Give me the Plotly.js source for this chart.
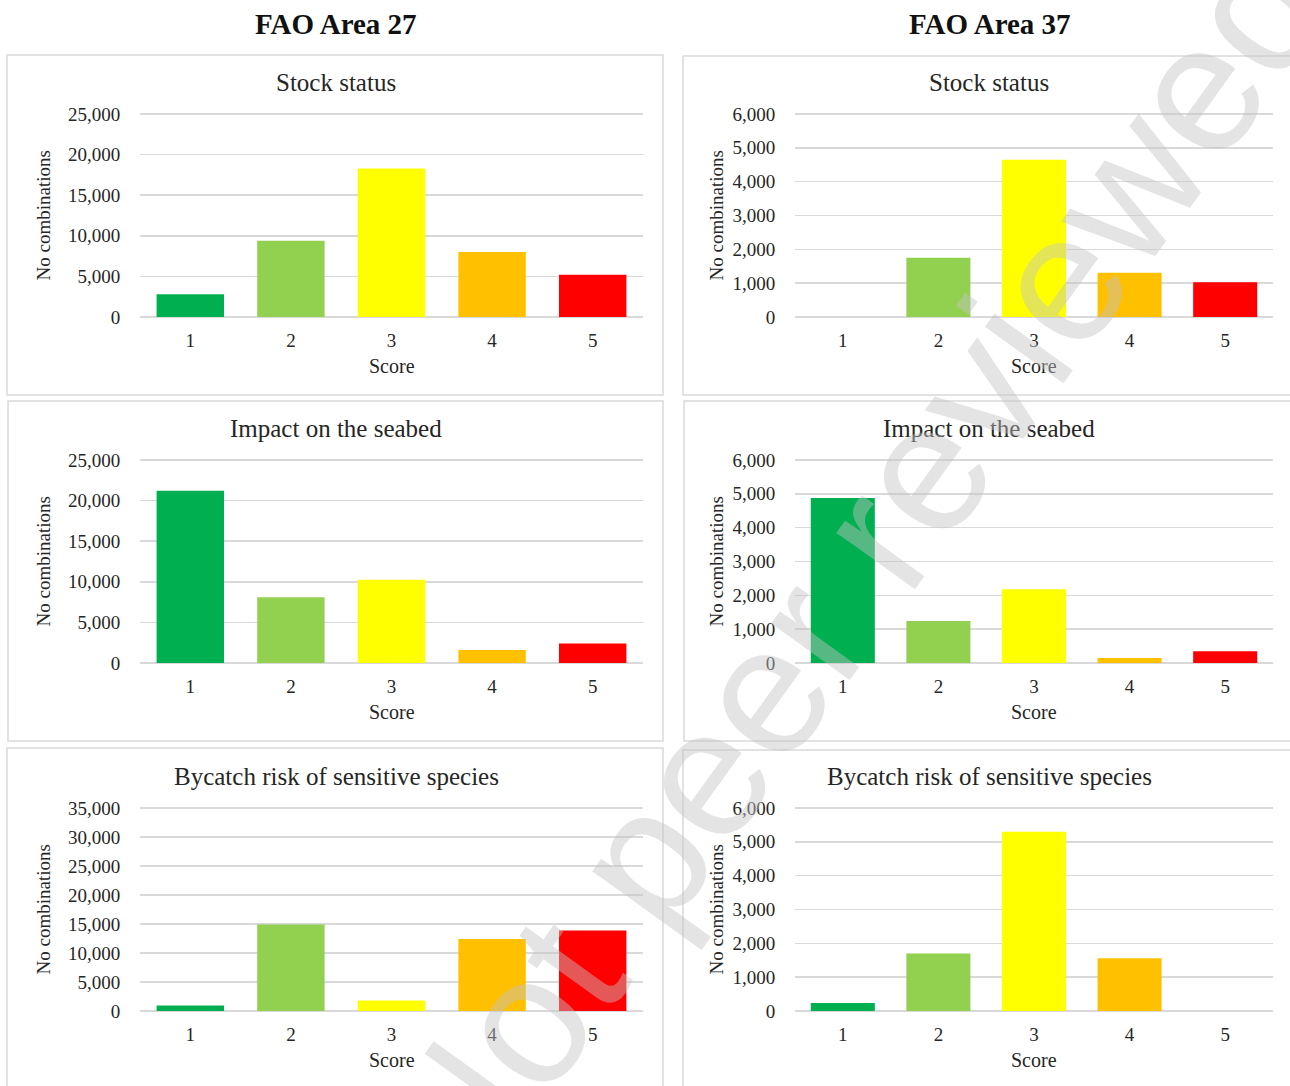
<!DOCTYPE html>
<html>
<head>
<meta charset="utf-8">
<script src="https://cdn.plot.ly/plotly-3.0.1.min.js"></script>
<style>html,body{margin:0;padding:0;background:#fff;}#chart{width:1290px;height:1086px;}</style>
</head>
<body>
<div id="chart"></div>
<script>
// ---- data ----
const scores = ["1", "2", "3", "4", "5"];
const scoreColors = ["#00B050", "#92D050", "#FFFF00", "#FFC000", "#FF0000"];
const columnTitles = ["FAO Area 27", "FAO Area 37"];
const panelTitles = ["Stock status", "Impact on the seabed", "Bycatch risk of sensitive species"];
const area27Stock = [2800, 9400, 18300, 8000, 5200];
const area37Stock = [0, 1750, 4650, 1310, 1030];
const area27Seabed = [21200, 8100, 10250, 1600, 2400];
const area37Seabed = [4880, 1240, 2180, 150, 350];
const area27Bycatch = [950, 14900, 1800, 12400, 13900];
const area37Bycatch = [240, 1700, 5300, 1560, 0];
const yMax27 = [25000, 25000, 35000];
const yMax37 = [6000, 6000, 6000];
const yStep27 = [5000, 5000, 5000];
const yStep37 = [1000, 1000, 1000];
const yTitle = "No combinations";
const xTitle = "Score";
const watermark = "Not peer reviewed";

// ---- layout helpers ----
const W = 1290, H = 1086;
const px = x => x / W;
const py = y => 1 - y / H;
const serif = "Liberation Serif, Times New Roman, serif";
const textColor = "#262626";

const cols = [{x0: 140, x1: 643}, {x0: 795, x1: 1273}];
const rows = [{y0: 114, y1: 317}, {y0: 460, y1: 663}, {y0: 808, y1: 1011}];
const boxes = [
  [{x0: 7, y0: 55, x1: 663, y1: 395}, {x0: 683, y0: 56, x1: 1300, y1: 395}],
  [{x0: 8, y0: 401, x1: 663, y1: 741}, {x0: 684, y0: 401, x1: 1300, y1: 741}],
  [{x0: 7, y0: 748, x1: 663, y1: 1100}, {x0: 683, y0: 750, x1: 1300, y1: 1100}]
];
const seriesGrid = [
  [area27Stock, area37Stock],
  [area27Seabed, area37Seabed],
  [area27Bycatch, area37Bycatch]
];

const data = [];
const layout = {
  width: W, height: H,
  margin: {l: 0, r: 0, t: 0, b: 0},
  paper_bgcolor: "#ffffff", plot_bgcolor: "rgba(0,0,0,0)",
  showlegend: false,
  bargap: 0.33,
  annotations: [], shapes: []
};

const topPad = 4; // px of headroom so the top gridline is drawn
let idx = 0;
for (let r = 0; r < 3; r++) {
  for (let c = 0; c < 2; c++) {
    idx++;
    const xa = "x" + (idx === 1 ? "" : idx), ya = "y" + (idx === 1 ? "" : idx);
    const xk = "xaxis" + (idx === 1 ? "" : idx), yk = "yaxis" + (idx === 1 ? "" : idx);
    data.push({
      type: "bar", x: scores, y: seriesGrid[r][c],
      marker: {color: scoreColors, line: {width: 0}},
      xaxis: xa, yaxis: ya, hoverinfo: "x+y"
    });
    const col = cols[c], row = rows[r];
    const h = row.y1 - row.y0;
    layout[xk] = {
      domain: [px(col.x0), px(col.x1)], anchor: ya, type: "category",
      range: [-0.5, 4.5], showgrid: false, zeroline: false, showline: false,
      ticks: "outside", ticklen: 6, tickcolor: "rgba(0,0,0,0)",
      tickfont: {family: serif, size: 19, color: textColor}
    };
    const ymax = c === 0 ? yMax27[r] : yMax37[r];
    const ystep = c === 0 ? yStep27[r] : yStep37[r];
    layout[yk] = {
      domain: [py(row.y1), py(row.y0 - topPad)], anchor: xa,
      range: [0, ymax * (h + topPad) / h], dtick: ystep, tick0: 0, tickformat: ",",
      showgrid: true, gridcolor: "#d9d9d9", gridwidth: 1.5,
      zeroline: true, zerolinecolor: "#d9d9d9", zerolinewidth: 1.5, showline: false,
      ticks: "outside", ticklen: 15, tickcolor: "rgba(0,0,0,0)",
      tickfont: {family: serif, size: 19, color: textColor}
    };
    const cx = (col.x0 + col.x1) / 2;
    // panel title
    layout.annotations.push({
      text: panelTitles[r], xref: "paper", yref: "paper",
      x: px(c === 0 ? 336 : 989), y: py(row.y0 - 32), xanchor: "center", yanchor: "middle",
      showarrow: false, font: {family: serif, size: 25, color: textColor}
    });
    // x title
    layout.annotations.push({
      text: xTitle, xref: "paper", yref: "paper",
      x: px(cx), y: py(row.y1 + 49), xanchor: "center", yanchor: "middle",
      showarrow: false, font: {family: serif, size: 20, color: textColor}
    });
    // y title
    layout.annotations.push({
      text: yTitle, xref: "paper", yref: "paper", textangle: -90,
      x: px(c === 0 ? 43 : 716), y: py((row.y0 + row.y1) / 2), xanchor: "center", yanchor: "middle",
      showarrow: false, font: {family: serif, size: 19, color: textColor}
    });
    // box
    const b = boxes[r][c];
    layout.shapes.push({
      type: "rect", xref: "paper", yref: "paper",
      x0: px(b.x0), x1: px(b.x1), y0: py(b.y1), y1: py(b.y0),
      line: {color: "#d9d9d9", width: 1.5}, fillcolor: "rgba(0,0,0,0)", layer: "below"
    });
  }
}
// column titles
columnTitles.forEach((t, i) => {
  layout.annotations.push({
    text: "<b>" + t + "</b>", xref: "paper", yref: "paper",
    x: px(i === 0 ? 336 : 990), y: py(24), xanchor: "center", yanchor: "middle",
    showarrow: false, font: {family: serif, size: 29, color: "#111111"}
  });
});
// watermark
layout.annotations.push({
  text: watermark, xref: "paper", yref: "paper",
  x: px(850), y: py(570), xanchor: "center", yanchor: "middle", textangle: -54.2,
  showarrow: false, font: {family: "Liberation Sans, Arial, sans-serif", size: 183, color: "rgba(195,195,195,0.45)"}
});

Plotly.newPlot("chart", data, layout, {displayModeBar: false, staticPlot: true});
</script>
</body>
</html>
